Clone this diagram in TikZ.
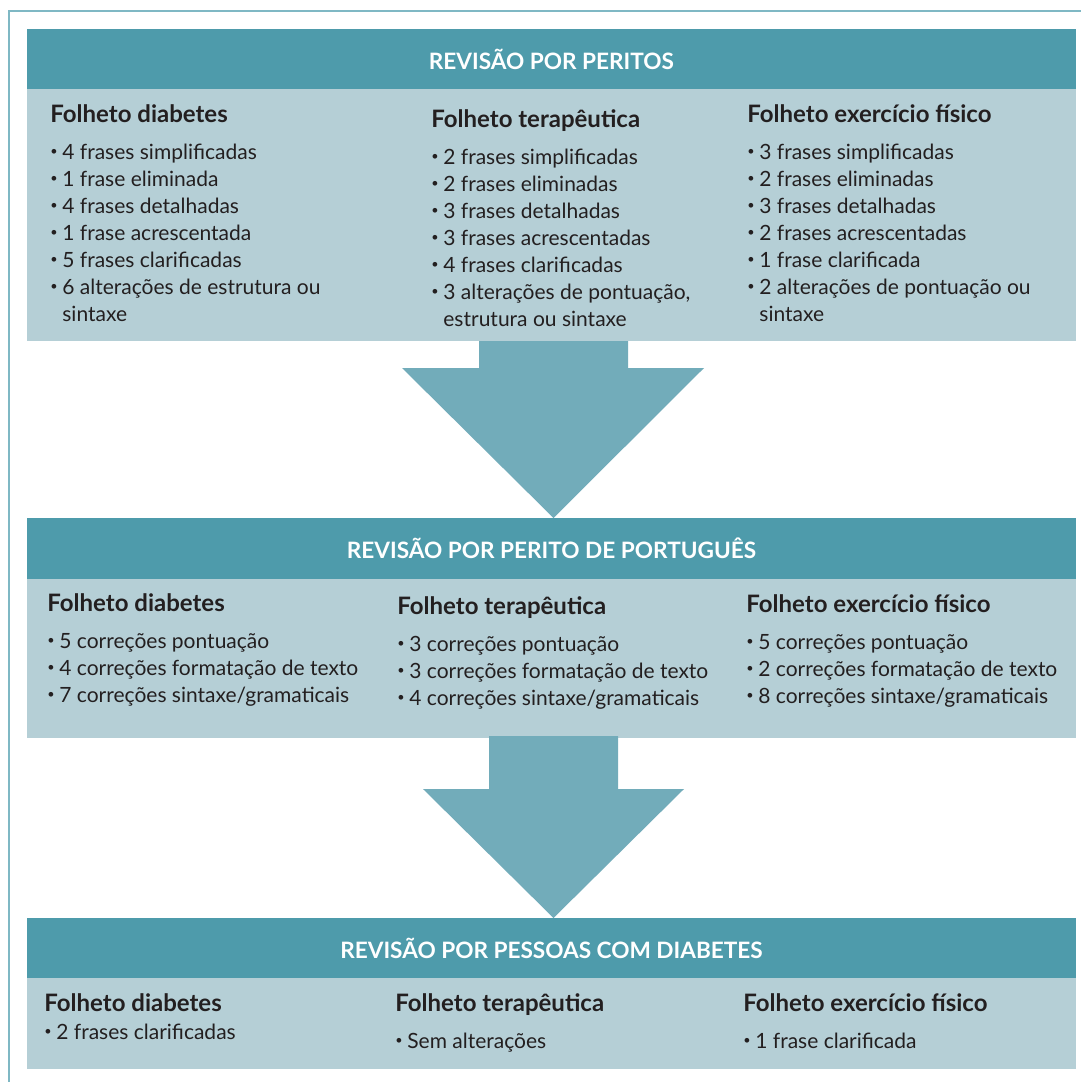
\documentclass[tikz,border=0pt]{standalone}
\usepackage{fontspec}
\setmainfont{Lato}
\definecolor{framecol}{RGB}{127, 184, 196}
\definecolor{headcol}{RGB}{78, 155, 171}
\definecolor{bodycol}{RGB}{181, 207, 214}
\definecolor{arrowcol}{RGB}{114, 172, 186}
\definecolor{textcol}{RGB}{35, 31, 32}
\newcommand{\bul}{\makebox[6pt][l]{\raisebox{0.16em}{\scalebox{0.6}{•}}}}
\newcommand{\nobul}{\hspace*{6pt}}
\newcommand{\fhead}[2][5pt]{{\fontsize{12}{13.5}\selectfont\bfseries #2}\\[#1]}

\begin{document}
\begin{tikzpicture}[x=0.5pt, y=-0.5pt,
  title/.style={font=\fontsize{11.3}{14}\selectfont\bfseries, text=white, inner sep=0pt},
  col/.style={anchor=north west, align=left, inner sep=0pt, text=textcol, font=\fontsize{10.5}{13.5}\selectfont}]
  \useasboundingbox (0,0) rectangle (1081,1082);
  \fill[white] (0,0) rectangle (1081,1082);

  % Frame
  \draw[framecol, line width=1pt] (9,1082) -- (9,11) -- (1081,11);

  % Panels
  \fill[headcol] (27,29) rectangle (1076,89);
  \fill[bodycol] (27,89) rectangle (1076,341);
  \fill[headcol] (27,518) rectangle (1076,579);
  \fill[bodycol] (27,579) rectangle (1076,738);
  \fill[headcol] (27,918) rectangle (1076,978);
  \fill[bodycol] (27,978) rectangle (1076,1069);

  % Arrows
  \fill[arrowcol] (479,341) -- (628,341) -- (628,368) -- (704,368) -- (553.5,518) -- (402,368) -- (479,368) -- cycle;
  \fill[arrowcol] (489,736) -- (618,736) -- (618,789) -- (684,789) -- (553.5,918) -- (423,789) -- (489,789) -- cycle;

  % Titles
  \node[title] (t1) at (551.5,59) {REVISÃO POR PERITOS};
  \node[title] (t2) at (551.5,548) {REVISÃO POR PERITO DE PORTUGUÊS};
  \node[title] (t3) at (551.5,948) {REVISÃO POR PESSOAS COM DIABETES};

  % Peritos
  \node[col] (p1a) at (50,104) {\fhead{Folheto diabetes}
    \bul 4 frases simplificadas\\ \bul 1 frase eliminada\\ \bul 4 frases detalhadas\\
    \bul 1 frase acrescentada\\ \bul 5 frases clarificadas\\
    \bul 6 alterações de estrutura ou\\ \nobul sintaxe};
  \node[col] (p1b) at (431,109) {\fhead{Folheto terapêutica}
    \bul 2 frases simplificadas\\ \bul 2 frases eliminadas\\ \bul 3 frases detalhadas\\
    \bul 3 frases acrescentadas\\ \bul 4 frases clarificadas\\
    \bul 3 alterações de pontuação,\\ \nobul estrutura ou sintaxe};
  \node[col] (p1c) at (747,104) {\fhead{Folheto exercício físico}
    \bul 3 frases simplificadas\\ \bul 2 frases eliminadas\\ \bul 3 frases detalhadas\\
    \bul 2 frases acrescentadas\\ \bul 1 frase clarificada\\
    \bul 2 alterações de pontuação ou\\ \nobul sintaxe};

  % Perito de portugues
  \node[col] (p2a) at (47,593) {\fhead{Folheto diabetes}
    \bul 5 correções pontuação\\ \bul 4 correções formatação de texto\\ \bul 7 correções sintaxe/gramaticais};
  \node[col] (p2b) at (397,596) {\fhead{Folheto terapêutica}
    \bul 3 correções pontuação\\ \bul 3 correções formatação de texto\\ \bul 4 correções sintaxe/gramaticais};
  \node[col] (p2c) at (746,594) {\fhead{Folheto exercício físico}
    \bul 5 correções pontuação\\ \bul 2 correções formatação de texto\\ \bul 8 correções sintaxe/gramaticais};

  % Pessoas com diabetes
  \node[col] (p3a) at (44,993) {\fhead[0.5pt]{Folheto diabetes}
    \bul 2 frases clarificadas};
  \node[col] (p3b) at (395,993) {\fhead{Folheto terapêutica}
    \bul Sem alterações};
  \node[col] (p3c) at (743,993) {\fhead{Folheto exercício físico}
    \bul 1 frase clarificada};
\end{tikzpicture}
\end{document}
